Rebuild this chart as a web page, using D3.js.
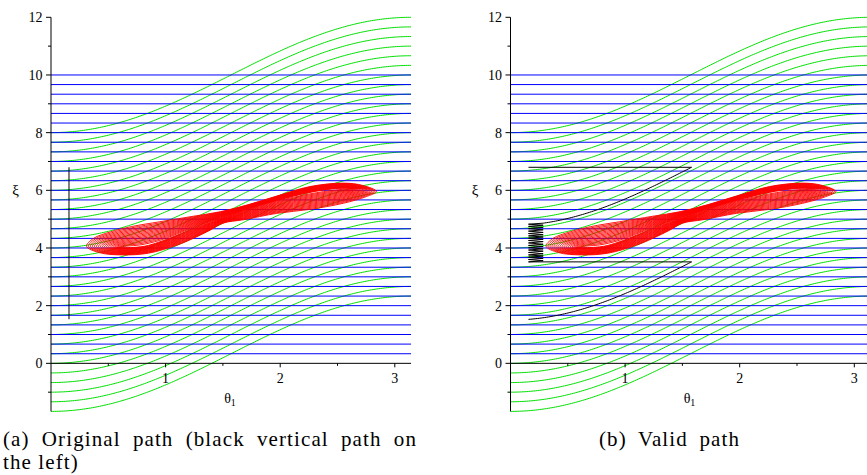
<!DOCTYPE html>
<html>
<head>
<meta charset="utf-8">
<script src="https://cdn.jsdelivr.net/npm/d3@7"></script>
<style>
  html, body { margin: 0; padding: 0; background: #fff; }
  svg { display: block; }
</style>
</head>
<body>
<svg id="chart" width="867" height="475"></svg>
<script>
// ---------------- data ----------------
// offsets of the green family  xi = c + 2 - 2 cos(theta)
const greenOffsets = [-1.667, -1.333, -1.0, -0.667, -0.333, 0.0, 0.333, 0.667, 1.0, 1.333,
  1.667, 2.0, 2.333, 2.667, 3.0, 3.333, 3.667, 4.0, 4.333, 4.667,
  5.0, 5.333, 5.667, 6.0, 6.333, 6.667, 7.0, 7.333, 7.667, 8.0];
// levels of the blue horizontal lines
const blueLevels = [0.333, 0.667, 1.0, 1.333, 1.667, 2.0, 2.333, 2.667, 3.0, 3.333,
  3.667, 4.0, 4.333, 4.667, 5.0, 5.333, 5.667, 6.0, 6.333, 6.667,
  7.0, 7.333, 7.667, 8.0, 8.333, 8.667, 9.0, 9.333, 9.667, 10.0];
// red family: outer contour and collapsed inner contour (theta, xi)
const redOuterTheta = [0.31, 0.37, 0.52, 0.70, 0.95, 1.24, 1.48, 1.72, 1.97, 2.26, 2.55, 2.72, 2.84,
  2.75, 2.55, 2.26, 1.97, 1.68, 1.50, 1.39, 1.24, 1.10, 0.85, 0.62, 0.42];
const redOuterXi = [4.06, 4.33, 4.56, 4.74, 4.91, 5.10, 5.26, 5.50, 5.80, 6.13, 6.25, 6.17, 5.96,
  5.78, 5.55, 5.34, 5.20, 4.98, 4.86, 4.62, 4.33, 4.10, 3.82, 3.76, 3.84];
const redInnerTheta = [0.60, 0.62, 0.68, 0.78, 0.95, 1.24, 1.48, 1.72, 1.97, 2.26, 2.45, 2.55, 2.62,
  2.58, 2.48, 2.26, 1.97, 1.68, 1.50, 1.39, 1.24, 1.10, 0.85, 0.72, 0.64];
const redInnerXi = [4.02, 4.03, 4.05, 4.08, 4.24, 4.69, 5.03, 5.35, 5.64, 5.92, 6.04, 6.07, 6.08,
  6.06, 6.03, 5.90, 5.64, 5.30, 5.05, 4.90, 4.69, 4.46, 4.10, 4.03, 4.02];
const redLevels = [1.0, 0.94, 0.88, 0.82, 0.76, 0.70, 0.64, 0.58, 0.52, 0.46, 0.40, 0.34,
  0.28, 0.22, 0.16, 0.10, 0.04];

// black paths
const pathTheta0 = 0.157;          // original vertical path position
const pathXi = [1.53, 6.8];        // original vertical path extent
const validTurnTheta = 1.58;       // right end of valid path legs
const validLowOffset = 1.5;        // green-like curve offsets of valid path
const validHighOffset = 4.78;
const hatchTheta = 0.285;
const hatchRight = [3.56, 3.64, 3.72, 3.80, 3.89, 3.97, 4.05, 4.13, 4.22, 4.30, 4.38,
  4.46, 4.54, 4.63, 4.71, 4.79, 4.86];

// ticks
const yMajor = [0, 2, 4, 6, 8, 10, 12];
const yMinor = [-1, 1, 3, 5, 7, 9, 11];
const xMajor = [1, 2, 3];
const xMinor = [0.5, 1.5, 2.5];

const captions = [
  {lines: ["(a) Original path (black vertical path on", "the left)"]},
  {lines: ["(b) Valid path"]}
];

// ---------------- layout ----------------
const FONT = "'Liberation Serif', 'Times New Roman', serif";
const svg = d3.select("#chart");
const unitX = 114.6;
const yScale = d3.scaleLinear().domain([-5 / 3, 12]).range([411.4, 17.3]);
const panelX0 = [51.0, 510.5];
const green = "#00e000", blue = "#0000ff", red = "#ff0000";
const thetaSamples = d3.range(0, 201).map(i => Math.PI * i / 200);
const g2 = t => 2 - 2 * Math.cos(t);

panelX0.forEach((x0, pi) => {
  const x = d3.scaleLinear().domain([0, Math.PI]).range([x0, x0 + unitX * Math.PI]);
  const y = yScale;
  const g = svg.append("g");
  const line = d3.line().x(d => x(d[0])).y(d => y(d[1]));

  // green curves
  g.append("g").selectAll("path").data(greenOffsets).join("path")
    .attr("d", c => line(thetaSamples.map(t => [t, c + g2(t)])))
    .attr("fill", "none").attr("stroke", green).attr("stroke-width", 1);

  // blue lines
  g.append("g").selectAll("line").data(blueLevels).join("line")
    .attr("x1", x(0)).attr("x2", x(Math.PI))
    .attr("y1", d => y(d)).attr("y2", d => y(d))
    .attr("stroke", blue).attr("stroke-width", 1);

  // red family
  const closed = d3.line().x(d => x(d[0])).y(d => y(d[1])).curve(d3.curveCatmullRomClosed.alpha(0.5));
  g.append("g").selectAll("path").data(redLevels).join("path")
    .attr("d", r => closed(redOuterTheta.map((t, i) => [
      redInnerTheta[i] + r * (t - redInnerTheta[i]),
      redInnerXi[i] + r * (redOuterXi[i] - redInnerXi[i])])))
    .attr("fill", "none").attr("stroke", red).attr("stroke-width", 0.9);

  // black paths
  if (pi === 0) {
    g.append("path")
      .attr("d", line([[pathTheta0, pathXi[0]], [pathTheta0, pathXi[1]]]))
      .attr("fill", "none").attr("stroke", "#000").attr("stroke-width", 1);
  } else {
    const pts = [];
    thetaSamples.filter(t => t >= pathTheta0 && t <= validTurnTheta)
      .forEach(t => pts.push([t, validLowOffset + g2(t)]));
    const lowEnd = validLowOffset + g2(validTurnTheta);
    pts.push([validTurnTheta, lowEnd]);
    pts.push([pathTheta0, lowEnd]);
    let prev = lowEnd;
    hatchRight.forEach((v, i) => {
      if (i > 0) pts.push([pathTheta0, (prev + v) / 2]);
      pts.push([hatchTheta, v]);
      prev = v;
    });
    thetaSamples.filter(t => t >= hatchTheta && t <= validTurnTheta)
      .forEach(t => pts.push([t, validHighOffset + g2(t)]));
    const highEnd = validHighOffset + g2(validTurnTheta);
    pts.push([validTurnTheta, highEnd]);
    pts.push([pathTheta0, highEnd]);
    g.append("path").attr("d", line(pts))
      .attr("fill", "none").attr("stroke", "#000").attr("stroke-width", 1);
  }

  // axes
  const ax = g.append("g").attr("stroke", "#000").attr("stroke-width", 1);
  ax.append("line").attr("x1", x(0)).attr("x2", x(0)).attr("y1", y(12)).attr("y2", y(-5 / 3));
  ax.append("line").attr("x1", x(0)).attr("x2", x(Math.PI)).attr("y1", y(0)).attr("y2", y(0));
  ax.selectAll(".ym").data(yMajor).join("line").attr("class", "ym")
    .attr("x1", x(0) - 5).attr("x2", x(0)).attr("y1", d => y(d)).attr("y2", d => y(d));
  ax.selectAll(".yn").data(yMinor).join("line").attr("class", "yn")
    .attr("x1", x(0) - 3).attr("x2", x(0)).attr("y1", d => y(d)).attr("y2", d => y(d));
  ax.selectAll(".xm").data(xMajor).join("line").attr("class", "xm")
    .attr("x1", d => x(d)).attr("x2", d => x(d)).attr("y1", y(0)).attr("y2", y(0) + 4);
  ax.selectAll(".xn").data(xMinor).join("line").attr("class", "xn")
    .attr("x1", d => x(d)).attr("x2", d => x(d)).attr("y1", y(0)).attr("y2", y(0) + 2.5);

  g.append("g").selectAll("text").data(yMajor).join("text")
    .style("font-family", FONT)
    .attr("x", x(0) - 8.5).attr("y", d => y(d)).attr("dy", "0.35em")
    .attr("text-anchor", "end").attr("font-size", 14).text(d => d);
  g.append("g").selectAll("text").data(xMajor).join("text")
    .style("font-family", FONT)
    .attr("x", d => x(d)).attr("y", y(0) + 19.5)
    .attr("text-anchor", "middle").attr("font-size", 14).text(d => d);

  // axis titles
  const tl = g.append("text").style("font-family", FONT).attr("x", x0 + 179).attr("y", 403)
    .attr("text-anchor", "middle").attr("font-size", 14);
  tl.append("tspan").text("θ");
  tl.append("tspan").attr("font-size", 10).attr("dy", 3).text("1");
  g.append("text").style("font-family", FONT).attr("x", x0 - 35.5).attr("y", 195)
    .attr("text-anchor", "middle").attr("font-size", 15).text("ξ");
});

// captions
function justify(sel, target) {
  const w = sel.node().getComputedTextLength();
  const n = (sel.text().match(/ /g) || []).length;
  if (n > 0) sel.attr("word-spacing", (target - w) / n);
}
const capStyle = s => s.style("font-family", FONT).attr("font-size", 21).attr("letter-spacing", 1.1);
const a1 = capStyle(svg.append("text").attr("x", 3).attr("y", 446)).text(captions[0].lines[0]);
justify(a1, 414);
capStyle(svg.append("text").attr("x", 3).attr("y", 469)).text(captions[0].lines[1]);
const b1 = capStyle(svg.append("text").attr("x", 599).attr("y", 446)).text(captions[1].lines[0]);
justify(b1, 141);
</script>
</body>
</html>
